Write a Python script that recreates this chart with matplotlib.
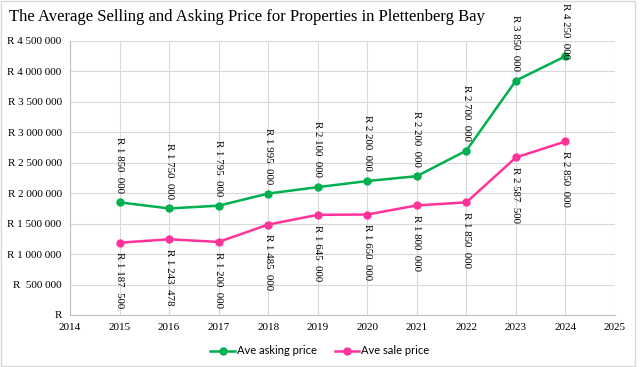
import numpy as np
import matplotlib
matplotlib.use("Agg")
import matplotlib.pyplot as plt
from matplotlib.ticker import FuncFormatter

##Data
years = [2015, 2016, 2017, 2018, 2019, 2020, 2021, 2022, 2023, 2024]
asking = [1850000, 1750000, 1795000, 1995000, 2100000, 2200000, 2280000, 2700000, 3850000, 4250000]
sale = [1187500, 1243478, 1200000, 1485000, 1645000, 1650000, 1800000, 1850000, 2587500, 2850000]
asking_labels = ["R 1 850  000", "R 1 750  000", "R 1 795  000", "R 1 995  000", "R 2 100  000",
                 "R 2 200  000", "R 2 200  000", "R 2 700  000", "R 3 850  000", "R 4 250  000"]
sale_labels = ["R 1 187  500", "R 1 243  478", "R 1 200  000", "R 1 485  000", "R 1 645  000",
               "R 1 650  000", "R 1 800  000", "R 1 850  000", "R 2 587  500", "R 2 850  000"]

green = "#00B050"
pink = "#FF3399"
font = "Liberation Serif"

def rand_fmt(v, pos):
    if v == 0:
        return "R"
    s = f"{int(v):,}".replace(",", " ")
    if v < 1000000:
        return "R  " + s
    return "R " + s

fig = plt.figure(figsize=(6.4, 3.67), dpi=100)
ax = fig.add_axes([70 / 640, 52 / 367, 545 / 640, 274 / 367])

ax.plot(years, asking, color=green, marker="o", markersize=5, linewidth=1.8, label="Ave asking price", zorder=3)
ax.plot(years, sale, color=pink, marker="o", markersize=5, linewidth=1.8, label="Ave sale price", zorder=3)

ax.set_xlim(2014, 2025)
ax.set_ylim(0, 4500000)

up_texts = []
for x, y, t in zip(years, asking, asking_labels):
    a = ax.annotate(t, (x, y), xytext=(0, 7), textcoords="offset points", rotation=-90,
                    ha="center", va="bottom", fontsize=7.8, family=font, annotation_clip=False)
    up_texts.append(a)
for x, y, t in zip(years, sale, sale_labels):
    ax.annotate(t, (x, y), xytext=(0, -7), textcoords="offset points", rotation=-90,
                ha="center", va="top", fontsize=7.8, family=font)

ax.set_xticks(range(2014, 2026))
ax.set_yticks(np.arange(0, 4500001, 500000))
ax.yaxis.set_major_formatter(FuncFormatter(rand_fmt))
ax.grid(True, color="#d9d9d9", linewidth=0.8)
ax.set_axisbelow(True)
for s in ["top", "right"]:
    ax.spines[s].set_visible(False)
for s in ["left", "bottom"]:
    ax.spines[s].set_color("#bfbfbf")
ax.tick_params(length=0, labelsize=8, pad=6)
for lab in ax.get_xticklabels() + ax.get_yticklabels():
    lab.set_family(font)

fig.text(9 / 640, 1 - 17 / 367, "The Average Selling and Asking Price for Properties in Plettenberg Bay",
         fontsize=12, family=font, va="center", ha="left")

fig.legend(loc="center", bbox_to_anchor=(0.5, 1 - 351 / 367), ncol=2, frameon=False,
           prop={"family": "Lato", "size": 8}, handlelength=2.2, columnspacing=1.6, handletextpad=0.2)

fig.add_artist(plt.Rectangle((0.002, 0.004), 0.99, 0.994, transform=fig.transFigure,
                             fill=False, edgecolor="#d9d9d9", linewidth=1))

##keep the labels above the line inside the picture (like Excel does)
fig.canvas.draw()
r = fig.canvas.get_renderer()
top = fig.bbox.height - 3
for a in up_texts:
    bb = a.get_window_extent(r)
    if bb.y1 > top:
        dy = (bb.y1 - top) * 72 / fig.dpi
        a.set_position((0, 7 - dy))

fig.savefig("out.png", dpi=100)
